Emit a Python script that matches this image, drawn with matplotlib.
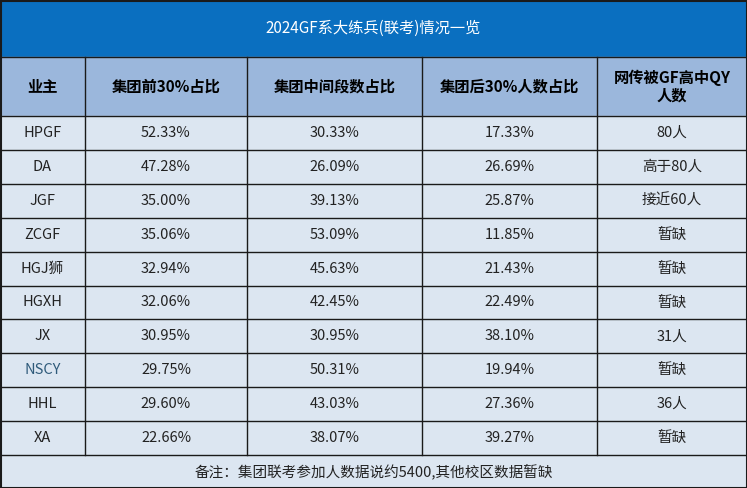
import matplotlib
matplotlib.use('Agg')
import matplotlib.pyplot as plt
from matplotlib.patches import Rectangle

plt.rcParams['font.family'] = ['Noto Sans CJK SC', 'DejaVu Sans']

title = '2024GF系大练兵(联考)情况一览'
headers = ['业主', '集团前30%占比', '集团中间段数占比', '集团后30%人数占比', '网传被GF高中QY\n人数']
owners = ['HPGF', 'DA', 'JGF', 'ZCGF', 'HGJ狮', 'HGXH', 'JX', 'NSCY', 'HHL', 'XA']
top30 = ['52.33%', '47.28%', '35.00%', '35.06%', '32.94%', '32.06%', '30.95%', '29.75%', '29.60%', '22.66%']
middle = ['30.33%', '26.09%', '39.13%', '53.09%', '45.63%', '42.45%', '30.95%', '50.31%', '43.03%', '38.07%']
bottom30 = ['17.33%', '26.69%', '25.87%', '11.85%', '21.43%', '22.49%', '38.10%', '19.94%', '27.36%', '39.27%']
qy = ['80人', '高于80人', '接近60人', '暂缺', '暂缺', '暂缺', '31人', '暂缺', '36人', '暂缺']
note = '备注：集团联考参加人数据说约5400,其他校区数据暂缺'

W, H = 747, 488
fig = plt.figure(figsize=(W / 100, H / 100), dpi=100)
ax = fig.add_axes([0, 0, 1, 1])
ax.set_xlim(0, W)
ax.set_ylim(H, 0)
ax.axis('off')

cols = [0, 85, 247, 422, 597, 747]
title_h, head_top, head_bot, foot_top = 57, 57, 116, 455
row_h = (foot_top - head_bot) / len(owners)
line = '#1a1a1a'
body = '#dce6f1'

ax.add_patch(Rectangle((0, 0), W, title_h, color='#0a6fc0'))
ax.text(W / 2, title_h / 2, title, color='white', ha='center', va='center', fontsize=11)
ax.add_patch(Rectangle((0, head_top), W, head_bot - head_top, color='#9bb7dc'))
ax.add_patch(Rectangle((0, head_bot), W, H - head_bot, color=body))

for i, h in enumerate(headers):
    cx = (cols[i] + cols[i + 1]) / 2
    ax.text(cx, (head_top + head_bot) / 2, h, ha='center', va='center', fontsize=11,
            fontweight='bold', linespacing=1.1)

for r in range(len(owners)):
    cy = head_bot + (r + 0.5) * row_h
    vals = [owners[r], top30[r], middle[r], bottom30[r], qy[r]]
    for i, v in enumerate(vals):
        cx = (cols[i] + cols[i + 1]) / 2
        color = '#2e5a7a' if owners[r] == 'NSCY' and i == 0 else '#222222'
        ax.text(cx, cy, v, ha='center', va='center', fontsize=10.5, color=color)

ax.text(W / 2, (foot_top + H) / 2, note, ha='center', va='center', fontsize=10.5, color='#222222')

# grid lines
for y in [head_top, head_bot] + [head_bot + k * row_h for k in range(1, len(owners) + 1)]:
    ax.plot([0, W], [y, y], color=line, lw=1)
for x in cols[1:-1]:
    ax.plot([x, x], [head_top, foot_top], color=line, lw=1)
ax.add_patch(Rectangle((0.5, 0.5), W - 1, H - 1, fill=False, ec=line, lw=1.5))

fig.savefig('out.png', dpi=100)
